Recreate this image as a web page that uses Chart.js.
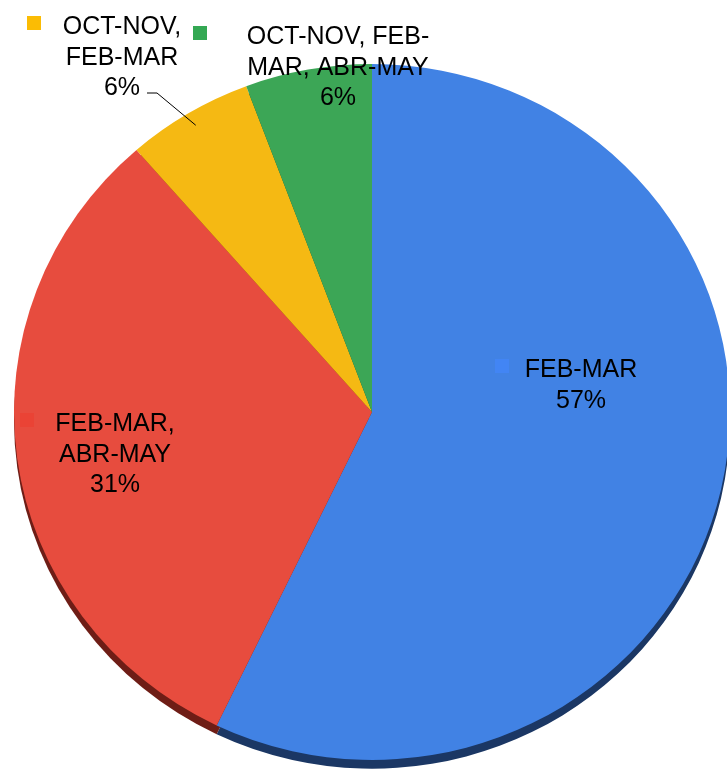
<!DOCTYPE html>
<html>
<head>
<meta charset="utf-8">
<script src="https://cdn.jsdelivr.net/npm/chart.js@4"></script>
<style>
  html, body { margin: 0; padding: 0; background: #fff; overflow: hidden; }
  #wrap { width: 750px; height: 800px; }
</style>
</head>
<body>
<div id="wrap"><canvas id="pie-chart"></canvas></div>
<script>
// data
var categories = ["FEB-MAR", "FEB-MAR, ABR-MAY", "OCT-NOV, FEB-MAR", "OCT-NOV, FEB-MAR, ABR-MAY"];
var counts = [20, 11, 2, 2];
var sliceColors = ["#4182e4", "#e74c3e", "#f5b913", "#3ca656"];
var rimColors = ["#1b3764", "#6e1d16", "#7a5a05", "#1b5229"];
var markerColors = ["#4285f4", "#ea4335", "#fbbc04", "#34a853"];

// how each label is wrapped and where it sits, relative to the pie centre
var labelLines = [["FEB-MAR"], ["FEB-MAR,", "ABR-MAY"], ["OCT-NOV,", "FEB-MAR"], ["OCT-NOV, FEB-", "MAR, ABR-MAY"]];
var labelSpots = [
  { tx: 209, ty: -44, mx: 130, my: -46 },
  { tx: -257, ty: 10, mx: -345, my: 8 },
  { tx: -250, ty: -387, mx: -338, my: -389 },
  { tx: -34, ty: -377, mx: -172, my: -379 }
];

var squash = 0.972; // pie is drawn slightly flattened
var rimDrop = 9;

document.addEventListener("DOMContentLoaded", function () {
  var ctx = document.getElementById("pie-chart").getContext("2d");
  var total = counts.reduce(function (a, b) { return a + b; }, 0);

  var tiltPlugin = {
    id: "tilt",
    beforeDatasetsDraw: function (chart) {
      var c = chart.ctx;
      var arcs = chart.getDatasetMeta(0).data;
      var cx = arcs[0].x, cy = arcs[0].y;
      c.save();
      c.translate(cx, cy);
      c.scale(1, squash);
      c.translate(-cx, -cy);
      // dark rim under the pie
      arcs.forEach(function (arc, i) {
        var keep = arc.options.backgroundColor;
        arc.options.backgroundColor = rimColors[i];
        c.save();
        c.translate(0, rimDrop);
        arc.draw(c);
        c.restore();
        arc.options.backgroundColor = keep;
      });
    },
    afterDatasetsDraw: function (chart) {
      chart.ctx.restore();
    }
  };

  var labelPlugin = {
    id: "sliceLabels",
    afterDraw: function (chart) {
      var c = chart.ctx;
      var arcs = chart.getDatasetMeta(0).data;
      var cx = arcs[0].x, cy = arcs[0].y;
      c.save();
      c.font = "25px 'Liberation Sans', Arial, sans-serif";
      c.textAlign = "center";
      c.textBaseline = "alphabetic";
      c.fillStyle = "#000";
      counts.forEach(function (v, i) {
        var spot = labelSpots[i];
        var lines = labelLines[i].concat([Math.round(v / total * 100) + "%"]);
        lines.forEach(function (t, k) {
          c.fillText(t, cx + spot.tx, cy + spot.ty + k * 30.5 + 9);
        });
        c.fillStyle = markerColors[i];
        c.fillRect(cx + spot.mx - 7, cy + spot.my - 7, 14, 14);
        c.fillStyle = "#000";
      });
      // leader line for the small yellow slice
      var a = arcs[2];
      var mid = (a.startAngle + a.endAngle) / 2;
      var ex = cx + Math.cos(mid) * a.outerRadius * 0.96;
      var ey = cy + Math.sin(mid) * a.outerRadius * 0.96 * squash;
      c.strokeStyle = "#000";
      c.lineWidth = 1;
      c.beginPath();
      c.moveTo(cx - 225, cy - 319);
      c.lineTo(cx - 215, cy - 319);
      c.lineTo(ex, ey);
      c.stroke();
      c.restore();
    }
  };

  new Chart(ctx, {
    type: "pie",
    data: {
      labels: categories,
      datasets: [{
        data: counts,
        backgroundColor: sliceColors,
        borderWidth: 0,
        clip: false
      }]
    },
    options: {
      responsive: true,
      maintainAspectRatio: false,
      animation: false,
      layout: { padding: { left: 14, right: 20, top: 54, bottom: 30 } },
      plugins: {
        legend: { display: false },
        tooltip: { enabled: false }
      }
    },
    plugins: [tiltPlugin, labelPlugin]
  });
});
</script>
</body>
</html>
